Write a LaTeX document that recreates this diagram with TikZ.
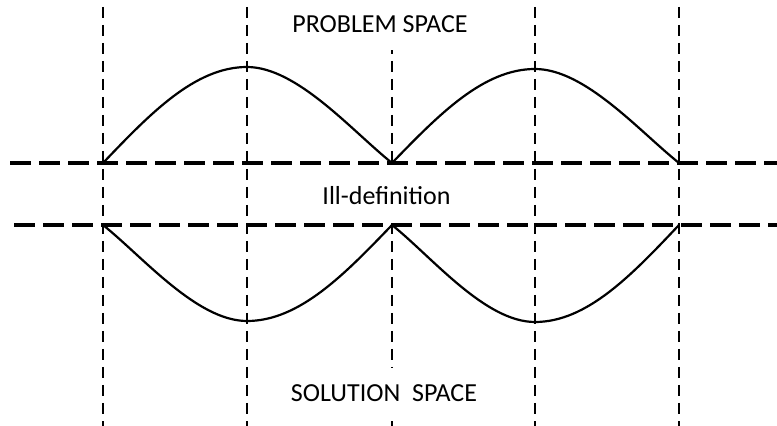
\documentclass[tikz,border=0pt]{standalone}
\usepackage{fontspec}
\setmainfont{Carlito}
\begin{document}
\begin{tikzpicture}[x=1pt, y=1pt,
    vline/.style={line width=2.8pt, dash pattern=on 11pt off 7pt},
    hline/.style={line width=3.2pt, dash pattern=on 21pt off 8pt},
    wave/.style={line width=2.2pt, line join=round},
    spacelabel/.style={fill=white, font=\fontsize{26}{31}\selectfont, text depth=0pt, inner xsep=4pt, inner ysep=0pt},
]
    \useasboundingbox (0,0) rectangle (777,426);

    % Vertical guides
    \foreach \xv in {103,247,392,535,679}
        \draw[vline] (\xv,419) -- (\xv,0);

    % Labels
    \node[spacelabel, text height=16pt, minimum height=50pt] (problem) at (380,401) {PROBLEM SPACE};
    \node[spacelabel, text height=22pt, minimum height=62pt] (illdef) at (386.5,232) {Ill-definition};
    \node[spacelabel, text height=18pt, minimum height=50pt] (solution) at (384,33) {SOLUTION\ \ SPACE};

    % Horizontal guides
    \draw[hline] (10,263) -- (777,263);
    \draw[hline] (14,201) -- (777,201);

    % Problem space arcs
    \draw[wave] (103,263) sin (247,359) .. controls (297,359) and (352,295) .. (392,263)
                sin (535,357) .. controls (585,357) and (639,295) .. (679,263);

    % Solution space arcs
    \draw[wave] (103,201) .. controls (143,169) and (197,105) .. (247,105) cos (392,201)
                .. controls (432,169) and (485,104) .. (535,104) cos (679,201);
\end{tikzpicture}
\end{document}
